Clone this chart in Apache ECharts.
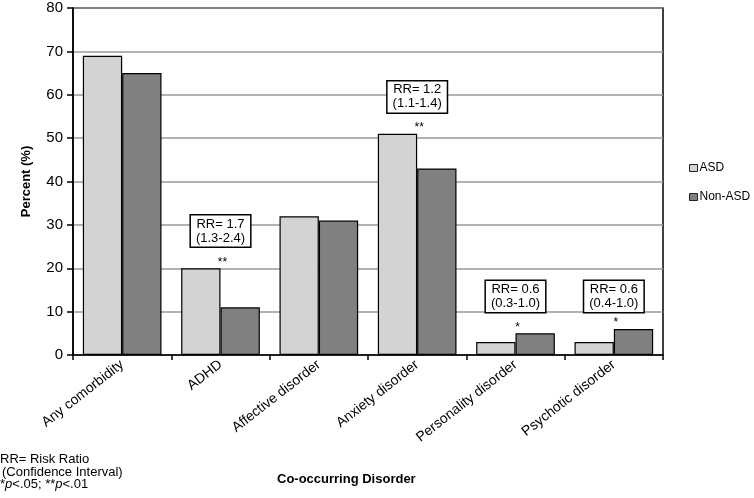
<!DOCTYPE html>
<html>
<head>
<meta charset="utf-8">
<script src="https://cdn.jsdelivr.net/npm/echarts@6/dist/echarts.min.js"></script>
<style>html,body{margin:0;padding:0;background:#fff;}#c{width:754px;height:498px;}</style>
</head>
<body>
<div id="c"></div>
<script>
var categories = ['Any comorbidity', 'ADHD', 'Affective disorder', 'Anxiety disorder', 'Personality disorder', 'Psychotic disorder'];
var asdValues = [69, 20, 32, 51, 3, 3];
var nonAsdValues = [65, 11, 31, 43, 5, 6];
var yTicks = [0, 10, 20, 30, 40, 50, 60, 70, 80];

// significance stars: category, level of the bar top they sit on, text
var starCats = ['ADHD', 'Anxiety disorder', 'Personality disorder', 'Psychotic disorder'];
var starLevels = [20, 51, 5, 6];
var starTexts = ['**', '**', '*', '*'];

// risk-ratio boxes: category, vertical centre (in % units), text
var boxCats = ['ADHD', 'Anxiety disorder', 'Personality disorder', 'Psychotic disorder'];
var boxLevels = [28.6, 59.5, 13.5, 13.5];
var boxTexts = ['RR= 1.7\n(1.3-2.4)', 'RR= 1.2\n(1.1-1.4)', 'RR= 0.6\n(0.3-1.0)', 'RR= 0.6\n(0.4-1.0)'];

var FONT = '"Liberation Sans", Arial, sans-serif';
var chart = echarts.init(document.getElementById('c'), null, {renderer: 'canvas'});

var starData = starCats.map(function (c, i) { return {value: [c, starLevels[i]], label: {formatter: starTexts[i]}}; });
var boxData = boxCats.map(function (c, i) { return {value: [c, boxLevels[i]], label: {formatter: boxTexts[i]}}; });

chart.setOption({
  animation: false,
  backgroundColor: '#fff',
  textStyle: {fontFamily: FONT},
  grid: {left: 73, right: 91, top: 8, bottom: 143, show: true, borderColor: '#000', borderWidth: 1.5, backgroundColor: 'transparent'},
  legend: {
    data: ['ASD', 'Non-ASD'],
    orient: 'vertical', left: 684, top: 157,
    itemWidth: 8, itemHeight: 7, itemGap: 17,
    icon: 'rect',
    itemStyle: {borderColor: '#222', borderWidth: 1},
    textStyle: {fontSize: 12, color: '#000', fontFamily: FONT, padding: [0, 0, 0, -3]}
  },
  xAxis: {
    type: 'category',
    data: categories,
    boundaryGap: true,
    axisLine: {lineStyle: {color: '#000', width: 1.5}},
    axisTick: {show: true, length: 5, lineStyle: {color: '#000', width: 1.5}},
    axisLabel: {rotate: 38, fontSize: 14, color: '#000', margin: 8, fontFamily: FONT, interval: 0},
    splitLine: {show: false}
  },
  yAxis: {
    type: 'value',
    min: 0, max: 80, interval: 10,
    name: 'Percent (%)',
    nameLocation: 'middle',
    nameGap: 40,
    nameTextStyle: {fontSize: 13, fontWeight: 'bold', color: '#000', fontFamily: FONT},
    axisLine: {show: true, lineStyle: {color: '#000', width: 1.5}},
    axisTick: {show: true, length: 6, lineStyle: {color: '#000', width: 1.5}},
    axisLabel: {fontSize: 15, color: '#000', margin: 10, fontFamily: FONT,
      formatter: function (v) { return yTicks.indexOf(v) >= 0 ? String(v) : ''; }},
    splitLine: {show: true, lineStyle: {color: '#999', width: 1.5}}
  },
  series: [
    {
      name: 'ASD', type: 'bar', data: asdValues,
      barGap: '0%', barCategoryGap: '20%',
      itemStyle: {color: '#d3d3d3', borderColor: '#000', borderWidth: 1.2}
    },
    {
      name: 'Non-ASD', type: 'bar', data: nonAsdValues,
      barGap: '0%', barCategoryGap: '20%',
      itemStyle: {color: '#808080', borderColor: '#000', borderWidth: 1.2}
    },
    {
      name: 'stars', type: 'scatter', data: starData,
      symbolSize: 0, silent: true, z: 5,
      itemStyle: {opacity: 1},
      label: {show: true, position: 'top', distance: 0, offset: [2, 0], fontSize: 12, color: '#000', fontFamily: FONT,
        textBorderWidth: 0}
    },
    {
      name: 'boxes', type: 'scatter', data: boxData,
      symbolSize: 0, silent: true, z: 6,
      itemStyle: {opacity: 1},
      label: {show: true, position: 'inside', fontSize: 13, lineHeight: 14, color: '#000', fontFamily: FONT,
        textBorderWidth: 0, textBorderColor: 'transparent',
        backgroundColor: '#fff', borderColor: '#000', borderWidth: 1.5, padding: [2, 5, 1, 5], align: 'center'}
    }
  ],
  graphic: [
    {type: 'text', left: 0, top: 453, style: {text: 'RR= Risk Ratio', font: '13px ' + FONT, fill: '#000'}},
    {type: 'text', left: 2, top: 466, style: {text: '(Confidence Interval)', font: '13px ' + FONT, fill: '#000'}},
    {type: 'text', left: 0, top: 478, style: {
      text: '*{i|p}<.05; **{i|p}<.01', font: '13px ' + FONT, fill: '#000',
      rich: {i: {fontStyle: 'italic', fontSize: 13, fontFamily: FONT}}}},
    {type: 'text', left: 277, top: 473, style: {text: 'Co-occurring Disorder', font: 'bold 13px ' + FONT, fill: '#000'}}
  ]
});
</script>
</body>
</html>
